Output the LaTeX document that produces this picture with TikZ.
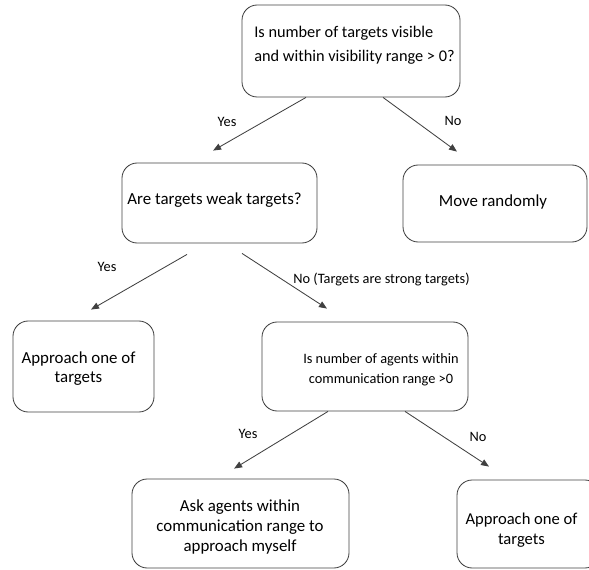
\documentclass[tikz,border=0pt]{standalone}
\usepackage{fontspec}
\setmainfont{Carlito}
\usetikzlibrary{arrows.meta}

\begin{document}
\begin{tikzpicture}[
  box/.style={draw=black!75,line width=0.6pt,rounded corners=0.38cm,inner sep=0pt},
  txt/.style={font=\fontsize{12}{14.5}\selectfont,inner sep=0pt},
  lbl/.style={font=\fontsize{10.2}{12}\selectfont,inner sep=0pt},
  arr/.style={draw=black!75,line width=0.6pt,-{Triangle[length=0.2cm,width=0.16cm]}}]
\useasboundingbox (0,0) rectangle (14.725,14.225);

% boxes
\node[box,minimum width=5.45cm,minimum height=2.3cm] (visible) at (8.775,12.95) {};
\node[box,minimum width=4.875cm,minimum height=2cm] (weak) at (5.4875,9.15) {};
\node[box,minimum width=4.6cm,minimum height=1.925cm] (random) at (12.375,9.1375) {};
\node[box,minimum width=3.525cm,minimum height=2.275cm] (approachA) at (2.0875,5.0625) {};
\node[box,minimum width=5.15cm,minimum height=2.225cm] (agents) at (9.125,5.0625) {};
\node[box,minimum width=5.425cm,minimum height=2.225cm] (ask) at (6.0125,1.1375) {};
\node[box,minimum width=3.575cm,minimum height=2.2cm] (approachB) at (13.2125,1.125) {};

% texts
\node[txt,align=left,font=\fontsize{11.6}{17}\selectfont] (visible-t) at (8.8625,13.1) {Is number of targets visible\\and within visibility range > 0?};
\node[txt] (weak-t) at (5.3625,9.225) {Are targets weak targets?};
\node[txt] (random-t) at (12.325,9.175) {Move randomly};
\node[txt,align=center,font=\fontsize{12}{13.5}\selectfont] (approachA-t) at (1.9625,5.0125) {Approach one of\\targets};
\node[txt,align=center,font=\fontsize{10.2}{14.2}\selectfont] (agents-t) at (9.525,4.975) {Is number of agents within\\communication range >0};
\node[txt,align=center] (ask-t) at (6.0,1.05) {Ask agents within\\communication range to\\approach myself};
\node[txt,align=center,font=\fontsize{11.8}{14}\selectfont] (approachB-t) at (13.0375,0.975) {Approach one of\\targets};

% connectors
\draw[arr] ([xshift=-1.125cm]visible.south) -- ([shift={(-0.16,0.3)}]weak.north);
\draw[arr] ([xshift=0.8cm]visible.south) -- ([shift={(-0.95,0.325)}]random.north);
\draw[arr] ([shift={(-0.8125,-0.275)}]weak.south) -- ([shift={(0.1875,0.275)}]approachA.north);
\draw[arr] ([shift={(0.5625,-0.25)}]weak.south) -- ([shift={(-0.95,0.325)}]agents.north);
\draw[arr] ([xshift=-0.925cm]agents.south) -- ([shift={(-0.16,0.25)}]ask.north);
\draw[arr] ([xshift=1cm]agents.south) -- ([shift={(-0.9875,0.325)}]approachB.north);

% labels
\node[lbl] (yes-a) at (5.675,11.175) {Yes};
\node[lbl] (no-a) at (11.325,11.2) {No};
\node[lbl] (yes-b) at (2.675,7.55) {Yes};
\node[lbl] (no-b) at (9.5375,7.25) {No (Targets are strong targets)};
\node[lbl] (yes-c) at (6.2,3.375) {Yes};
\node[lbl] (no-c) at (11.95,3.3) {No};

\end{tikzpicture}
\end{document}
